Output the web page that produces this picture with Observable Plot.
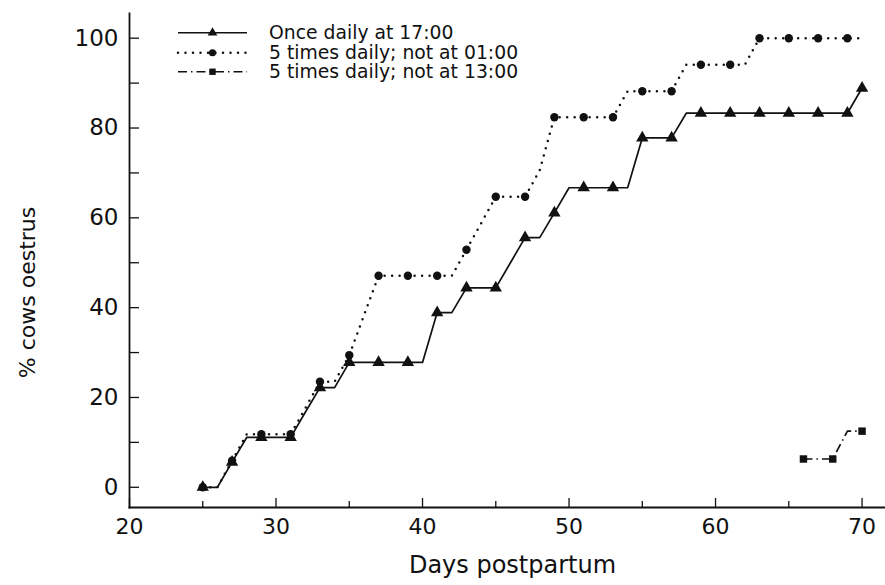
<!DOCTYPE html>
<html><head><meta charset="utf-8">
<script src="https://cdn.jsdelivr.net/npm/d3@7"></script>
<script src="https://cdn.jsdelivr.net/npm/@observablehq/plot@0.6"></script>
<style>
html,body{margin:0;padding:0;background:#fff;}
#wrap{position:relative;width:885px;height:585px;font-family:"DejaVu Sans",sans-serif;color:#111;}
#legend{position:absolute;left:176px;top:23px;font-size:18.8px;}
.row{display:flex;align-items:center;height:19.5px;white-space:nowrap;}
.row svg{width:72px;height:19.5px;margin-right:21px;overflow:visible;}
</style></head><body>
<div id="wrap"><div id="chart"></div><div id="legend"></div></div>
<script>
// Series names (legend)
const seriesNames = ["Once daily at 17:00", "5 times daily; not at 01:00", "5 times daily; not at 13:00"];

// Once daily at 17:00 (solid, triangles)
const daysA = [25,26,27,28,29,31,32,33,34,35,37,39,40,41,42,43,45,46,47,48,49,50,51,53,54,55,57,58,59,61,63,65,67,69,70];
const valsA = [0,0,5.6,11.1,11.1,11.1,16.7,22.2,22.2,27.8,27.8,27.8,27.8,38.9,38.9,44.4,44.4,50.0,55.6,55.6,61.1,66.7,66.7,66.7,66.7,77.8,77.8,83.3,83.3,83.3,83.3,83.3,83.3,83.3,88.9];
const markDaysA = [25,27,29,31,33,35,37,39,41,43,45,47,49,51,53,55,57,59,61,63,65,67,69,70];

// 5 times daily; not at 01:00 (dotted, circles)
const daysB = [25,26,27,28,29,31,32,33,34,35,37,39,41,42,43,44,45,47,48,49,51,53,54,55,57,58,59,61,62,63,65,67,69,70];
const valsB = [0,0,5.9,11.8,11.8,11.8,17.6,23.5,23.5,29.4,47.1,47.1,47.1,47.1,52.9,58.8,64.7,64.7,70.6,82.4,82.4,82.4,88.2,88.2,88.2,94.1,94.1,94.1,94.1,100,100,100,100,100];
const markDaysB = [25,27,29,31,33,35,37,39,41,43,45,47,49,51,53,55,57,59,61,63,65,67,69];

// 5 times daily; not at 13:00 (dash-dot, squares)
const daysC = [66,68,69,70];
const valsC = [6.3,6.3,12.5,12.5];
const markDaysC = [66,68,70];

// Axis ticks
const xTicksMajor = [20,30,40,50,60,70];
const xTicksMinor = [25,35,45,55,65];
const yTicks = [0,10,20,30,40,50,60,70,80,90,100];
const yTickLabels = [0,20,40,60,80,100];
const xLabel = "Days postpartum";
const yLabel = "% cows oestrus";

const styles = [
  {dash: null, width: 1.7, cap: "butt", symbol: "triangle", r: 4.6},
  {dash: "0,7.5", width: 2.5, cap: "round", symbol: "circle", r: 4.2},
  {dash: "9,4,1.5,4", width: 1.7, cap: "butt", symbol: "square", r: 4.2}
];

const W = 885, H = 585, mL = 129, mR = 0, mT = 13, mB = 78;
const frameW = W - mL - mR, frameH = H - mT - mB;

const toRows = (days, vals, s) => days.map((d, i) => ({day: d, pct: vals[i], s}));
const rowsA = toRows(daysA, valsA, 0), rowsB = toRows(daysB, valsB, 1), rowsC = toRows(daysC, valsC, 2);
const marksOf = (rows, md) => rows.filter(r => md.includes(r.day));

const ink = "#111";
const lineMark = (rows, st) => Plot.line(rows, {x: "day", y: "pct", stroke: ink, strokeWidth: st.width,
  strokeDasharray: st.dash, strokeLinecap: st.cap});
const dotMark = (rows, st) => Plot.dot(rows, {x: "day", y: "pct", symbol: () => st.symbol, fill: ink, stroke: "none", r: st.r});

const chart = Plot.plot({
  width: W, height: H,
  marginLeft: mL, marginRight: mR, marginTop: mT, marginBottom: mB,
  style: {fontFamily: "DejaVu Sans, sans-serif", fontSize: "22px", color: ink, background: "#fff", overflow: "visible"},
  x: {domain: [20, 71.6]},
  y: {domain: [-4.5, 105.5]},
  symbol: {type: "identity"},
  marks: [
    Plot.frame({anchor: "left", stroke: ink, strokeWidth: 1.8}),
    Plot.frame({anchor: "bottom", stroke: ink, strokeWidth: 2}),
    // inward ticks
    Plot.tickX(xTicksMajor, {x: d => d, stroke: ink, strokeWidth: 1.3, insetTop: frameH - 9}),
    Plot.tickX(xTicksMinor, {x: d => d, stroke: ink, strokeWidth: 1.3, insetTop: frameH - 6}),
    Plot.tickY(yTicks, {y: d => d, stroke: ink, strokeWidth: 1.3, insetRight: frameW - 10}),
    Plot.axisX({ticks: xTicksMajor, tickSize: 0, tickPadding: 11, label: null, fontSize: 22, fill: ink}),
    Plot.axisY({ticks: yTickLabels, tickSize: 0, tickPadding: 11, label: null, fontSize: 23, fill: ink}),
    Plot.text([xLabel], {frameAnchor: "bottom", textAnchor: "middle", dx: 5, dy: 65, fontSize: 24, fill: ink}),
    Plot.text([yLabel], {frameAnchor: "left", textAnchor: "middle", rotate: -90, dx: -102, dy: 32, fontSize: 22, fill: ink}),
    lineMark(rowsA, styles[0]),
    lineMark(rowsB, styles[1]),
    lineMark(rowsC, styles[2]),
    dotMark(marksOf(rowsA, markDaysA), styles[0]),
    dotMark(marksOf(rowsB, markDaysB), styles[1]),
    dotMark(marksOf(rowsC, markDaysC), styles[2])
  ]
});
document.getElementById("chart").appendChild(chart);

// Legend (HTML overlay)
const legend = d3.select("#legend");
seriesNames.forEach((name, i) => {
  const st = styles[i];
  const row = legend.append("div").attr("class", "row");
  const svg = row.append("svg").attr("viewBox", "0 0 72 19.5");
  svg.append("line").attr("x1", 2).attr("x2", 71).attr("y1", 9.75).attr("y2", 9.75)
    .attr("stroke", ink).attr("stroke-width", st.width)
    .attr("stroke-dasharray", st.dash).attr("stroke-linecap", st.cap);
  svg.append("path").attr("transform", "translate(36.5,9.75)")
    .attr("d", d3.symbol(st.symbol === "triangle" ? d3.symbolTriangle : st.symbol === "circle" ? d3.symbolCircle : d3.symbolSquare, Math.PI * 3.6 * 3.6)())
    .attr("fill", ink);
  row.append("span").text(name);
});
</script>
</body></html>
